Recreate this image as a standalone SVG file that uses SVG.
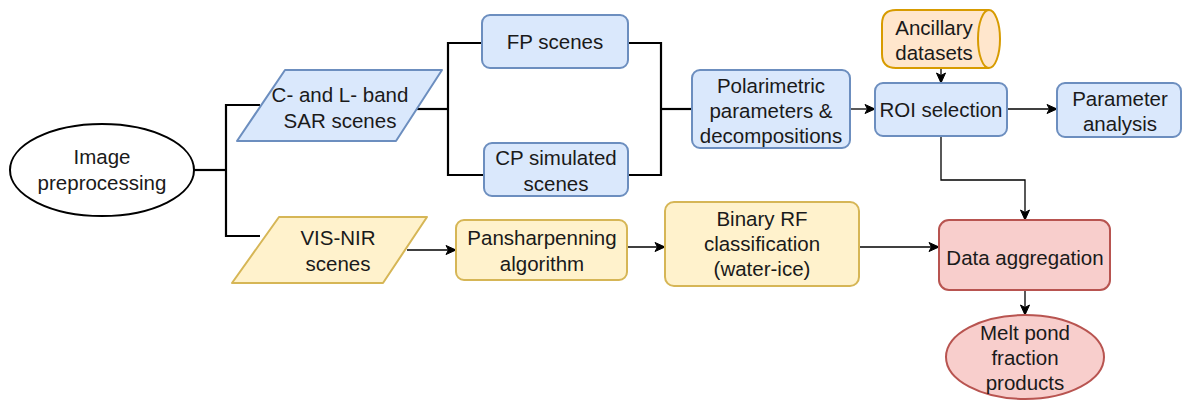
<svg xmlns="http://www.w3.org/2000/svg" width="1182" height="400" viewBox="0 0 1182 400">
<defs>
<marker id="arr" markerWidth="13" markerHeight="12" refX="11" refY="6" orient="auto" markerUnits="userSpaceOnUse">
<path d="M1,1.5 L11,6 L1,10.5 L3.5,6 Z" fill="#000" stroke="#000" stroke-width="1"/>
</marker>
</defs>
<style>
text{font-family:"Liberation Sans",Arial,sans-serif;font-size:20.5px;fill:#1a1a1a;text-anchor:middle;dominant-baseline:central}
.blue{fill:#dae8fc;stroke:#6c8ebf;stroke-width:2}
.yel{fill:#fff2cc;stroke:#d6b656;stroke-width:2}
.red{fill:#f8cecc;stroke:#b85450;stroke-width:2}
.org{fill:#ffe6cc;stroke:#d79b00;stroke-width:2}
.wht{fill:#fff;stroke:#000;stroke-width:2}
.br{fill:none;stroke:#000;stroke-width:2.2}
.ar{fill:none;stroke:#000;stroke-width:1.3;marker-end:url(#arr)}
</style>
<rect width="1182" height="400" fill="#fff"/>
<g id="connectors">
<polyline class="br" points="194,170 226,170"/>
<polyline class="br" points="260,105 226,105 226,236 260,236"/>
<polyline class="br" points="417,109 448,109"/>
<polyline class="br" points="482,43 448,43 448,175 484,175"/>
<polyline class="br" points="628,43 661,43 661,175 628,175"/>
<polyline class="br" points="661,109 692,109"/>
<line class="ar" x1="850" y1="109" x2="875" y2="109"/>
<line class="ar" x1="1007" y1="109" x2="1057" y2="109"/>
<line class="ar" x1="941" y1="68" x2="941" y2="83"/>
<polyline class="ar" points="941,136 941,180 1025,180 1025,220"/>
<line class="ar" x1="407" y1="250" x2="456" y2="250"/>
<line class="ar" x1="627" y1="247" x2="665" y2="247"/>
<line class="ar" x1="859" y1="247" x2="939" y2="247"/>
<line class="ar" x1="1025" y1="290" x2="1025" y2="315"/>
</g>
<g id="image-preprocessing">
<ellipse class="wht" cx="102" cy="170" rx="92" ry="46"/>
<text x="102" y="156">Image</text>
<text x="102" y="182">preprocessing</text>
</g>
<g id="sar-scenes">
<path class="blue" stroke-linejoin="round" d="M285,70 L442,70 L396,141 L237,141 Z"/>
<text x="340" y="94">C- and L- band</text>
<text x="340" y="120">SAR scenes</text>
</g>
<g id="vis-nir">
<path class="yel" stroke-linejoin="round" d="M279,217 L427,217 L383,283 L232,283 Z"/>
<text x="338" y="237">VIS-NIR</text>
<text x="338" y="263">scenes</text>
</g>
<g id="fp-scenes">
<rect class="blue" x="482" y="15" width="146" height="53" rx="8"/>
<text x="555" y="41">FP scenes</text>
</g>
<g id="cp-scenes">
<rect class="blue" x="484" y="143" width="144" height="53" rx="8"/>
<text x="556" y="157">CP simulated</text>
<text x="556" y="183">scenes</text>
</g>
<g id="polarimetric">
<rect class="blue" x="692" y="70" width="158" height="78" rx="8"/>
<text x="771" y="85">Polarimetric</text>
<text x="771" y="110">parameters &amp;</text>
<text x="771" y="135">decompositions</text>
</g>
<g id="ancillary">
<path class="org" d="M896,10 L989,10 A11,29 0 0 1 989,68 L896,68 Q882,68 882,54 L882,24 Q882,10 896,10 Z"/>
<path fill="none" stroke="#d79b00" stroke-width="2" d="M989,10 A11,29 0 0 0 989,68"/>
<text x="934" y="27">Ancillary</text>
<text x="934" y="52">datasets</text>
</g>
<g id="roi">
<rect class="blue" x="875" y="83" width="132" height="53" rx="8"/>
<text x="941" y="109">ROI selection</text>
</g>
<g id="parameter-analysis">
<rect class="blue" x="1057" y="83" width="124" height="54" rx="8"/>
<text x="1120" y="98">Parameter</text>
<text x="1120" y="123">analysis</text>
</g>
<g id="pansharpening">
<rect class="yel" x="456" y="220" width="171" height="60" rx="8"/>
<text x="542" y="237">Pansharpenning</text>
<text x="542" y="263">algorithm</text>
</g>
<g id="binary-rf">
<rect class="yel" x="665" y="202" width="194" height="84" rx="9"/>
<text x="762" y="218">Binary RF</text>
<text x="762" y="243">classification</text>
<text x="762" y="268">(water-ice)</text>
</g>
<g id="data-aggregation">
<rect class="red" x="939" y="220" width="171" height="70" rx="10"/>
<text x="1025" y="257">Data aggregation</text>
</g>
<g id="melt-pond">
<ellipse class="red" cx="1025" cy="357" rx="79" ry="42"/>
<text x="1025" y="332">Melt pond</text>
<text x="1025" y="357">fraction</text>
<text x="1025" y="382">products</text>
</g>
</svg>
